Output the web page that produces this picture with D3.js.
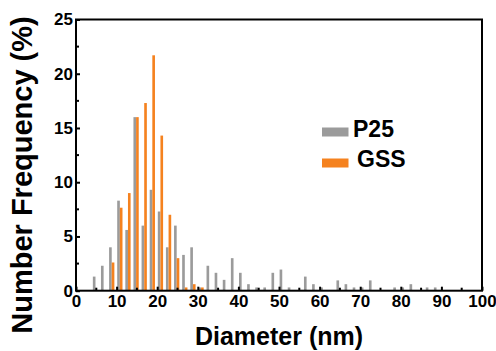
<!DOCTYPE html>
<html><head><meta charset="utf-8">
<script src="https://cdn.jsdelivr.net/npm/d3@7"></script>
<style>body{margin:0;background:#fff}svg{display:block}text{font-family:"Liberation Sans",Arial,sans-serif;font-weight:bold;fill:#000}</style>
</head><body>
<svg id="c" width="496" height="351"></svg>
<script>
const diameters = [5,7,9,11,13,15,17,19,21,23,25,27,29,31,33,35,37,39,41,43,45,47,49,51,53,55,57,59,61,63,65,67,69,71,73,75,77,79,81,83,85,87,89];
const p25 = [1.3,2.3,4.0,8.3,5.6,16.0,6.0,9.3,7.3,4.0,6.0,3.3,4.0,0.3,2.3,1.65,1.0,3.0,1.65,0.6,0.3,0.3,1.65,1.95,0.3,0,1.3,0.6,0.3,0,0.95,0.6,0.3,0.3,0.95,0,0,0.3,0.3,0.6,0,0.3,0.3];
const gss = [0,0,2.6,7.65,9.0,16.0,17.3,21.7,14.3,7.0,3.0,0.3,0.6,0.3,0,0,0,0,0,0,0,0,0,0,0,0,0,0,0,0,0,0,0,0,0,0,0,0,0,0,0,0,0];
const xTicks = [0,10,20,30,40,50,60,70,80,90,100];
const yTicks = [0,5,10,15,20,25];
const seriesNames = ["P25","GSS"];
const colors = ["#9b9b9b","#f5821f"];

const svg = d3.select("#c");
const L=76,R=482,T=19.5,B=290.7;
const x = d3.scaleLinear().domain([0,100]).range([L,R]);
const y = d3.scaleLinear().domain([0,25]).range([B,T]);
const bw = 0.65;

// bars
const g = svg.append("g");
g.selectAll("rect.p").data(diameters.map((d,i)=>({d,v:p25[i]})).filter(o=>o.v>0)).join("rect")
 .attr("x",o=>x(o.d-0.2-bw)).attr("width",o=>x(o.d-0.2)-x(o.d-0.2-bw))
 .attr("y",o=>y(o.v)).attr("height",o=>y(0)-y(o.v)).attr("fill",colors[0]);
g.selectAll("rect.g").data(diameters.map((d,i)=>({d,v:gss[i]})).filter(o=>o.v>0)).join("rect")
 .attr("x",o=>x(o.d-0.2)).attr("width",o=>x(o.d-0.2+bw)-x(o.d-0.2))
 .attr("y",o=>y(o.v)).attr("height",o=>y(0)-y(o.v)).attr("fill",colors[1]);

// frame
svg.append("rect").attr("x",L).attr("y",T).attr("width",R-L).attr("height",B-T)
 .attr("fill","none").attr("stroke","#000").attr("stroke-width",2);

// x axis
const xa = d3.axisBottom(x).tickValues(xTicks).tickSize(-4).tickPadding(9).tickFormat(d3.format("d"));
const gx = svg.append("g").attr("transform",`translate(0,${B})`).call(xa);
gx.select(".domain").remove();
gx.selectAll("line").attr("stroke","#000").attr("stroke-width",2);
gx.selectAll("text").attr("font-size",17).attr("dy","0.72em").attr("y",4);
const minorX = d3.range(5,100,10);
svg.append("g").selectAll("line").data(minorX).join("line")
 .attr("x1",d=>x(d)).attr("x2",d=>x(d)).attr("y1",B).attr("y2",B-3).attr("stroke","#000").attr("stroke-width",2);

// y axis
const ya = d3.axisLeft(y).tickValues(yTicks).tickSize(-4).tickPadding(5).tickFormat(d3.format("d"));
const gy = svg.append("g").attr("transform",`translate(${L},0)`).call(ya);
gy.select(".domain").remove();
gy.selectAll("line").attr("stroke","#000").attr("stroke-width",2);
gy.selectAll("text").attr("font-size",17).attr("x",-3);
const minorY = d3.range(2.5,25,5);
svg.append("g").selectAll("line").data(minorY).join("line")
 .attr("x1",L).attr("x2",L+3).attr("y1",d=>y(d)).attr("y2",d=>y(d)).attr("stroke","#000").attr("stroke-width",2);

// titles
svg.append("text").attr("x",279).attr("y",345).attr("text-anchor","middle").attr("font-size",25).text("Diameter (nm)");
svg.append("text").attr("transform","translate(32,175) rotate(-90)").attr("text-anchor","middle").attr("font-size",29).text("Number Frequency (%)");

// legend
const leg = svg.append("g");
const ly = [127.5,158.5], lt=[137,167], lx=[353,357];
seriesNames.forEach((n,i)=>{
  leg.append("rect").attr("x",322).attr("y",ly[i]).attr("width",26.5).attr("height",9).attr("fill",colors[i]);
  leg.append("text").attr("x",lx[i]).attr("y",lt[i]).attr("font-size",23).text(n);
});
</script>
</body></html>
